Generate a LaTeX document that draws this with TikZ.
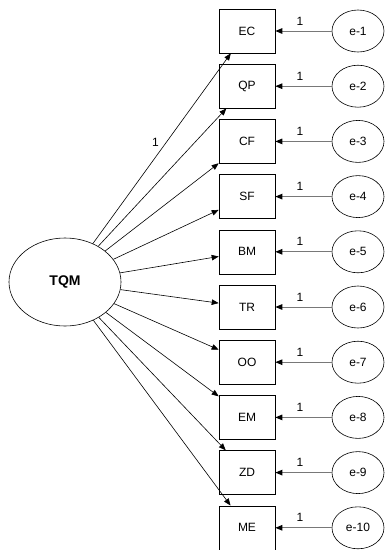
\documentclass[tikz,border=0pt]{standalone}
\usepackage{fontspec}
\setmainfont{Liberation Sans}
\usetikzlibrary{arrows.meta,shapes.geometric}
\begin{document}
\begin{tikzpicture}[x=1pt,y=-1pt,
  obs/.style={draw, line width=0.6pt, minimum width=56pt, minimum height=44pt, inner sep=0pt, font=\fontsize{12}{14}\selectfont},
  err/.style={draw, line width=0.6pt, ellipse, minimum width=52pt, minimum height=42pt, inner sep=0pt, font=\fontsize{12}{14}\selectfont},
  lat/.style={draw, line width=0.6pt, ellipse, minimum width=112pt, minimum height=88pt, inner sep=0pt, font=\fontsize{14}{16}\selectfont\bfseries},
  load/.style={line width=0.6pt, -{Triangle[length=7pt,width=5.5pt]}},
  errload/.style={line width=1pt, draw={rgb,255:red,120;green,120;blue,120}, -{Triangle[length=7pt,width=5.5pt,color=black,fill=black]}},
  wt/.style={font=\fontsize{12}{14}\selectfont, inner sep=1pt}]
\useasboundingbox (0,0) rectangle (385,550);
\node[lat] (tqm) at (65,282) {TQM};
\foreach \n/\lab [count=\i from 0] in {1/EC,2/QP,3/CF,4/SF,5/BM,6/TR,7/OO,8/EM,9/ZD,10/ME} {
  \node[obs] (b\n) at (247,{31+55.2*\i}) {\lab};
  \node[err] (e\n) at (358,{31+55.2*\i}) {e-\n};
  \draw[errload] (e\n) -- (b\n);
  \node[wt] (w\n) at (300,{21+55.2*\i}) {1};
}
\draw[load] (tqm) -- node[wt, pos=0.53, left=6pt] (w0) {1} (b1);
\foreach \n in {2,...,10} {
  \draw[load] (tqm) -- (b\n);
}
\end{tikzpicture}
\end{document}
